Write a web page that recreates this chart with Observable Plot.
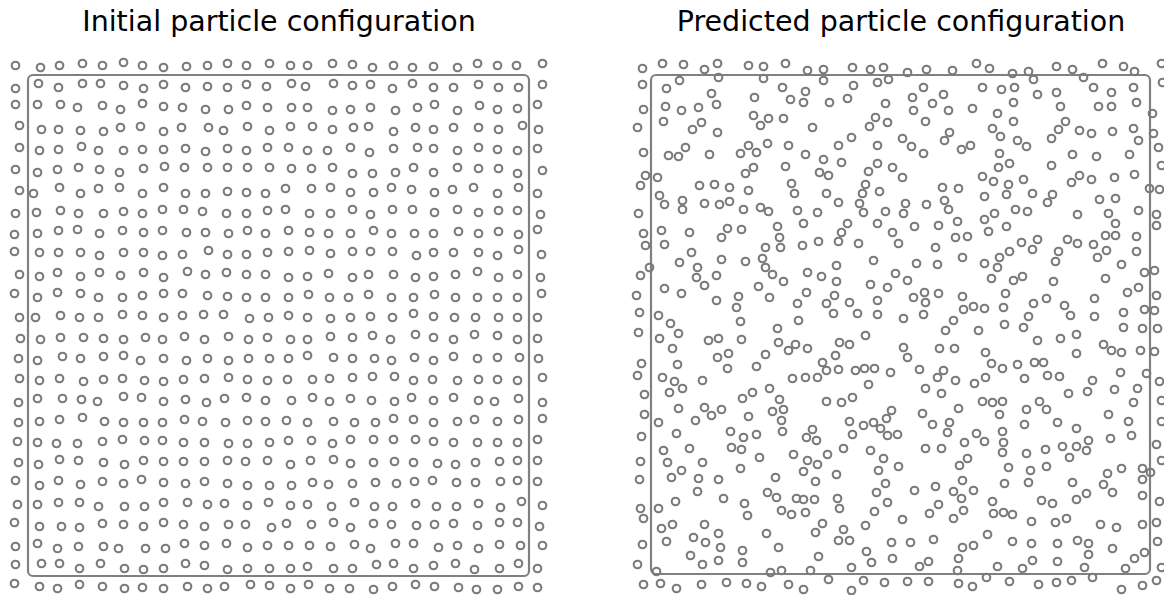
<!DOCTYPE html>
<html>
<head>
<meta charset="utf-8">
<script src="https://cdn.jsdelivr.net/npm/d3@7"></script>
<script src="https://cdn.jsdelivr.net/npm/@observablehq/plot@0.6"></script>
<style>
  html, body { margin: 0; padding: 0; background: #fff; }
  #wrap { display: flex; flex-direction: row; width: 1164px; height: 595px; }
  #wrap svg { display: block; }
</style>
</head>
<body>
<div id="wrap"></div>
<script>
// Titles
const titles = ["Initial particle configuration", "Predicted particle configuration"];

// Simulation boxes (same units as particle positions)
const initialBoxX = [28, 529];
const initialBoxY = [75, 576];
const predictedBoxX = [651, 1150];
const predictedBoxY = [75, 574];

// Initial configuration: 26 rows of 26 particles (x per row, y per row)
const initialRowsX = [
[15,40,59,82,102,123,142,163,186,207,227,246,269,290,307,332,352,372,393,412,433,457,477,497,516,542],
[15,38,58,82,100,123,143,163,185,207,227,246,266,291,305,333,352,370,392,412,433,453,478,498,518,542],
[15,37,60,77,102,120,142,163,182,205,228,246,267,291,307,332,350,370,395,417,434,457,479,497,517,537],
[19,41,58,80,103,120,140,163,181,208,223,247,269,290,312,332,353,368,393,415,433,453,478,498,522,538],
[19,39,58,81,98,123,142,163,185,205,227,246,267,288,307,327,350,369,393,417,433,457,478,497,517,537],
[15,37,57,78,99,119,143,164,184,207,227,247,269,291,311,332,352,372,395,413,433,457,478,498,517,542],
[19,33,59,80,98,119,142,163,185,205,227,246,265,285,311,330,350,373,391,411,434,452,473,497,518,537],
[15,36,60,78,103,123,142,162,183,202,226,246,267,285,309,330,352,370,392,412,434,457,478,498,517,540],
[14,37,58,77,99,122,143,162,186,205,228,247,265,288,309,328,350,373,391,414,433,458,478,498,518,537],
[14,39,58,80,99,123,143,162,182,208,227,246,267,288,309,330,352,370,392,416,433,453,478,497,518,541],
[19,39,57,80,99,120,143,163,187,205,226,246,265,288,307,328,352,368,393,415,433,455,477,498,517,540],
[14,37,57,80,98,122,142,163,182,207,227,246,265,288,308,329,348,368,391,413,434,455,477,497,517,541],
[19,35,60,79,98,122,142,163,182,203,223,249,268,288,307,330,350,370,392,413,433,454,475,498,517,537],
[20,40,60,83,103,123,145,162,184,204,228,248,267,290,307,330,352,372,390,415,433,453,474,497,517,537],
[18,37,62,80,103,123,140,163,186,207,228,248,269,288,307,333,352,374,391,414,433,453,477,497,519,538],
[19,39,59,83,103,122,144,163,183,204,228,247,267,287,312,329,352,372,394,413,432,457,478,497,517,542],
[18,37,62,81,97,123,141,163,185,206,224,246,265,291,312,329,350,371,394,411,433,453,478,494,518,542],
[18,39,59,82,104,123,143,162,184,202,225,247,265,286,307,333,354,375,393,413,433,457,474,497,518,542],
[17,37,56,77,102,122,144,162,183,204,228,247,269,288,311,332,350,373,393,415,433,453,477,497,517,537],
[18,38,59,78,103,124,143,163,183,204,227,245,267,290,310,333,350,373,394,413,437,455,475,499,517,537],
[15,39,58,80,102,123,141,163,185,204,227,247,269,291,312,328,352,375,396,414,432,456,475,500,517,537],
[17,37,58,79,98,124,144,163,187,207,224,247,268,290,307,331,354,374,392,415,436,456,478,500,521,542],
[14,39,61,79,102,123,143,163,183,204,228,245,271,286,311,333,350,373,391,416,434,453,477,499,517,539],
[15,37,57,78,103,118,145,165,184,204,226,247,267,288,309,330,354,370,395,413,438,457,478,499,520,542],
[15,41,59,79,100,124,143,163,185,204,227,247,269,290,307,333,352,376,393,413,433,455,474,499,518,537],
[14,39,57,79,102,124,142,163,187,207,224,250,269,290,308,329,349,373,392,415,434,458,476,497,518,537]
];
const initialRowsY = [
[65,67,65,63,65,62,65,67,66,65,63,65,63,65,65,63,64,67,65,67,66,67,63,65,65,63],
[88,83,87,83,83,85,88,84,87,86,87,84,86,83,86,83,85,84,88,83,87,87,84,87,87,84],
[104,104,104,107,105,109,103,106,107,109,109,105,107,107,107,110,109,107,110,107,104,110,105,109,108,104],
[125,129,129,130,131,127,126,131,127,127,130,126,130,126,126,129,127,126,131,127,129,127,127,129,125,129],
[147,150,149,146,150,150,149,149,148,151,148,150,147,147,150,150,147,152,148,147,148,150,147,149,150,148],
[169,172,169,167,169,172,168,166,167,167,167,167,167,168,168,167,173,173,172,167,172,167,168,168,173,170],
[190,193,187,193,188,187,193,187,193,193,191,192,193,188,188,187,192,192,187,189,192,189,187,193,187,193],
[213,212,210,213,213,211,213,209,209,211,213,213,210,209,213,213,209,214,209,209,212,209,212,210,210,214],
[234,233,230,229,233,230,232,230,232,232,233,230,233,230,232,233,233,230,233,233,233,231,233,231,234,229],
[251,252,252,252,255,252,252,255,254,250,254,254,252,251,250,253,251,251,251,255,252,252,252,255,249,254],
[274,276,272,276,272,275,272,277,271,274,272,274,274,277,276,273,277,274,274,277,276,274,271,277,274,277],
[293,297,292,293,297,297,295,293,293,295,296,297,297,297,294,297,297,294,297,297,294,297,297,297,297,293],
[317,317,315,317,317,314,315,317,315,314,314,318,317,315,317,318,317,316,317,313,316,317,317,317,317,317],
[338,339,337,337,338,339,337,339,336,339,336,339,337,339,339,336,337,335,339,334,337,339,334,335,339,338],
[358,360,356,358,356,355,360,358,360,358,360,358,358,358,355,357,358,358,360,357,360,356,358,357,357,358],
[378,380,378,381,379,378,380,381,379,378,377,379,380,379,379,378,377,376,376,380,379,380,379,379,380,377],
[402,398,398,399,401,396,397,401,399,402,398,397,400,400,397,401,398,400,401,397,400,397,400,401,398,402],
[422,421,419,417,421,422,422,422,419,421,422,420,421,420,422,421,422,422,418,419,422,421,419,421,419,418],
[441,442,443,443,441,439,440,440,442,442,443,443,442,440,440,443,439,439,439,439,441,442,442,442,442,439],
[462,464,459,460,462,464,460,461,461,461,460,461,460,464,460,459,463,462,461,462,463,464,462,461,460,460],
[480,485,480,484,481,483,479,482,483,481,483,485,485,485,482,484,483,482,483,481,480,482,482,481,480,481],
[504,504,502,502,506,506,506,502,502,504,503,505,502,505,504,506,502,506,506,503,506,506,503,507,501,505],
[522,526,526,527,523,524,526,522,524,526,524,524,527,523,524,522,527,523,524,525,524,523,525,522,522,526],
[546,543,548,546,546,548,548,548,543,545,543,547,545,545,545,546,544,548,543,543,547,545,548,544,545,545],
[564,563,563,568,563,568,569,568,563,565,569,568,568,568,566,568,568,564,563,568,565,563,569,568,563,568],
[583,586,588,584,586,588,587,588,586,588,586,584,585,588,584,588,588,589,586,584,586,587,589,589,586,587]
];

// Predicted configuration: [x, y] per particle
const predictedPoints = [
[642,68],[662,63],[683,64],[704,69],[717,63],[748,65],[763,66],[785,63],[642,84],[666,88],[679,80],[718,77],[763,78],[711,93],[782,87],[754,97],[790,99],
[643,109],[665,106],[681,110],[698,107],[716,104],[663,121],[701,122],[692,129],[717,132],[753,115],[768,118],[760,125],[783,118],[637,127],
[643,152],[668,155],[678,156],[685,147],[709,154],[740,153],[748,145],[756,152],[767,143],[788,145],
[645,175],[657,177],[640,185],[745,173],[753,167],[785,166],[699,185],[714,184],[729,187],[748,190],[791,183],[794,193],
[659,195],[664,204],[682,200],[682,209],[704,203],[719,204],[729,201],[743,209],[760,207],[768,211],[797,210],[638,213],
[643,233],[661,230],[689,232],[721,237],[727,228],[741,229],[777,226],[779,237],[780,247],[645,245],[664,244],[691,252],[765,247],
[679,262],[721,259],[745,261],[762,258],[765,267],[697,267],[696,277],[772,274],[783,281],[649,267],[640,275],[716,275],
[704,285],[758,286],[664,288],[681,293],[636,295],[716,300],[738,296],[736,307],[769,297],[797,303],[639,312],[658,315],
[807,70],[823,69],[852,67],[870,69],[883,67],[907,72],[926,69],[952,70],[976,63],[823,80],[805,91],[803,102],[829,102],[847,98],[853,85],
[877,82],[888,79],[885,103],[912,97],[923,87],[932,103],[943,94],[913,110],[948,110],[972,108],[812,127],[875,117],[869,126],[887,122],[925,121],
[851,137],[838,145],[877,145],[902,138],[911,146],[923,153],[944,140],[949,132],[961,149],[970,145],[805,154],[823,159],[841,162],
[819,172],[828,175],[868,171],[877,163],[892,167],[902,177],[826,193],[865,184],[862,193],[879,191],[942,187],[958,188],
[838,202],[859,203],[863,212],[817,212],[885,211],[905,203],[903,213],[926,204],[944,200],[948,209],
[803,223],[847,223],[841,232],[877,223],[892,232],[914,226],[938,225],[957,221],[802,245],[818,241],[838,241],[858,243],[898,243],[935,247],[955,237],[967,236],
[873,260],[916,263],[937,264],[962,257],[807,272],[821,276],[836,265],[836,281],[870,284],[895,273],[907,280],
[806,292],[834,295],[826,303],[849,302],[877,300],[887,287],[913,297],[924,292],[925,302],[938,293],[962,296],[963,309],[973,306],
[833,313],[857,313],[877,314],[923,314],
[989,68],[1012,73],[1028,71],[1033,79],[1056,66],[1072,69],[1083,77],[1102,63],[1123,66],[1134,71],[1161,63],[1162,82],
[982,87],[1001,89],[1014,87],[1013,102],[1037,94],[1056,92],[1093,87],[1111,92],[1133,87],[1136,102],
[997,113],[1060,106],[1098,106],[1111,106],[1152,113],[1013,121],[992,128],[1000,136],[1065,121],[1058,129],[1051,138],[1079,130],[1091,133],[1112,131],[1133,128],[1138,140],[1153,133],
[1017,140],[1026,146],[999,153],[998,167],[1009,163],[1051,165],[1072,154],[1096,156],[1129,154],[1158,147],[1161,165],
[982,176],[993,181],[1008,184],[1023,179],[1006,194],[1032,193],[1052,194],[1047,202],[1071,182],[1079,175],[1091,179],[1114,177],[1134,174],[1149,188],[1159,189],
[984,196],[1099,199],[1115,198],[984,219],[994,213],[1015,209],[1027,211],[988,231],[1006,226],[1077,214],[1108,213],[1115,223],[1138,210],[1156,214],[1156,225],
[1021,242],[1037,239],[1032,249],[1009,251],[999,257],[997,267],[984,263],[1067,239],[1077,243],[1093,244],[1105,235],[1115,235],[1106,250],[1097,257],[1058,251],[1055,261],[1121,264],[1136,236],[1136,251],
[991,278],[1013,280],[1022,276],[1053,281],[1105,278],[1144,272],[1154,270],[1005,293],[1127,292],[1138,287],[1156,295],
[984,308],[1003,307],[1033,303],[1046,298],[1064,305],[1070,315],[1094,298],[1094,316],[1028,316],[1123,312],[1144,309],[1154,310],
[670,323],[740,321],[777,328],[798,320],[638,332],[659,338],[678,333],[672,348],[708,340],[718,338],[741,339],[778,342],[788,350],[795,344],
[641,363],[677,364],[717,357],[728,353],[727,368],[756,366],[765,354],[637,375],[662,377],[674,381],[682,388],[669,392],[702,380],[792,378],
[644,394],[678,408],[704,407],[711,415],[721,409],[742,398],[752,392],[769,388],[779,399],[772,411],[783,409],[781,420],[782,431],[644,414],[658,422],[695,420],[748,416],
[641,436],[676,433],[730,431],[743,437],[756,434],[663,450],[689,448],[731,447],[741,449],[759,457],[793,454],
[640,461],[667,462],[702,462],[681,470],[671,477],[698,478],[718,479],[740,468],[775,477],[639,479],
[697,491],[723,498],[767,492],[776,497],[796,498],[675,501],[744,503],[747,515],[640,508],[643,518],[658,508],[781,510],[791,514],
[661,528],[672,524],[666,541],[704,524],[693,537],[705,542],[718,533],[720,547],[766,533],[778,547],[642,544],
[690,555],[702,564],[718,560],[742,550],[742,562],[637,564],[656,571],[770,572],[781,570],
[643,584],[660,583],[676,588],[701,584],[726,582],[746,583],[761,586],[788,584],
[903,318],[953,320],[945,330],[978,330],[865,335],[839,342],[849,344],[807,348],[835,355],[822,362],[826,370],[817,377],[805,377],
[838,369],[855,370],[864,368],[874,368],[890,372],[903,347],[907,357],[939,348],[954,348],[919,369],[937,377],[943,370],[955,380],[925,388],[941,393],[974,383],
[868,384],[826,401],[841,402],[852,397],[891,410],[886,418],[849,421],[863,425],[873,422],[880,428],[887,435],[897,434],[852,434],
[922,413],[932,424],[949,422],[947,432],[958,408],[812,429],[806,437],[816,440],[843,448],[827,454],[870,450],[883,458],[878,470],[898,466],
[925,448],[941,448],[964,442],[976,433],[807,460],[817,464],[803,471],[836,474],[815,481],[967,458],[959,465],
[885,483],[876,492],[962,480],[914,490],[935,486],[953,491],[961,498],[973,490],[803,499],[814,499],[837,498],[839,508],[887,502],
[805,512],[874,511],[938,504],[929,513],[963,510],[953,518],[902,519],[865,525],[822,523],[815,532],[843,529],
[838,540],[849,540],[891,542],[910,542],[933,539],[962,547],[973,545],[818,556],[866,551],[871,562],[892,558],[919,566],[928,561],[958,558],[957,570],[851,567],[810,570],
[828,579],[863,580],[884,582],[907,581],[928,581],[958,583],[972,586],[851,590],[803,589],
[1004,324],[1023,327],[1037,340],[1060,338],[1076,334],[1076,353],[1103,344],[1111,350],[1121,352],[1123,327],[1142,328],[1157,328],[1140,350],[1154,351],
[985,352],[991,363],[1002,368],[1017,364],[1034,362],[1043,362],[985,377],[1024,378],[1047,375],[1059,376],[1092,380],[1087,391],[1068,393],[1120,372],[1146,373],[1159,381],
[1114,389],[1137,388],[1133,402],[982,401],[992,402],[1002,401],[999,414],[1026,409],[1039,401],[1046,409],[1024,424],[1057,422],[1076,428],[1108,414],[1128,421],[1161,400],[1161,421],
[1002,431],[984,441],[1003,442],[1002,452],[1026,453],[1045,449],[1062,446],[1076,446],[1088,440],[1086,450],[1069,457],[1110,438],[1131,435],[1156,444],[1161,460],
[1008,467],[1030,470],[1046,466],[1004,483],[1028,482],[1072,482],[1107,473],[1103,484],[1112,492],[1121,468],[1142,468],[1150,472],[1142,479],[1142,495],
[992,501],[1041,500],[1052,503],[1076,499],[1086,493],[1159,501],[993,513],[1003,512],[1012,514],[1031,521],[1055,522],[1066,518],[1100,524],[1116,527],[1142,524],[1156,522],
[987,534],[1012,541],[1031,543],[1057,543],[1077,540],[1088,543],[1088,554],[1112,548],[1157,541],[1144,552],[1134,558],
[997,566],[1022,568],[1032,560],[1057,561],[1084,567],[1125,568],[1161,567],
[986,577],[1009,581],[1038,584],[1056,582],[1071,580],[1092,577],[1121,589],[1142,585],[1156,580]
];

const initialX = initialRowsX.flat();
const initialY = initialRowsY.flat();
const predictedX = predictedPoints.map(d => d[0]);
const predictedY = predictedPoints.map(d => d[1]);

const grey = "#7a7a7a";

function panel({xs, ys, boxX, boxY, title, marginLeft, marginRight, marginBottom}) {
  const box = [{x1: boxX[0], x2: boxX[1], y1: boxY[0], y2: boxY[1]}];
  return Plot.plot({
    width: 582,
    height: 595,
    marginTop: 75,
    marginLeft,
    marginRight,
    marginBottom,
    style: {background: "white", overflow: "visible"},
    x: {domain: boxX, axis: null},
    y: {domain: boxY, reverse: true, axis: null},
    marks: [
      Plot.rect(box, {x1: "x1", x2: "x2", y1: "y1", y2: "y2", rx: 5, ry: 5, fill: "none", stroke: "#808080", strokeWidth: 2.2}),
      Plot.dot(xs, {x: xs, y: ys, r: 3.8, fill: "none", stroke: grey, strokeWidth: 2.1}),
      Plot.text([title], {text: d => d, frameAnchor: "top", dy: -45, lineAnchor: "bottom",
        fontSize: 28.5, fontFamily: "DejaVu Sans", fill: "#000"})
    ]
  });
}

const wrap = document.getElementById("wrap");
wrap.append(panel({xs: initialX, ys: initialY, boxX: initialBoxX, boxY: initialBoxY, title: titles[0],
  marginLeft: 28, marginRight: 53, marginBottom: 19}));
wrap.append(panel({xs: predictedX, ys: predictedY, boxX: predictedBoxX, boxY: predictedBoxY, title: titles[1],
  marginLeft: 69, marginRight: 14, marginBottom: 21}));
</script>
</body>
</html>
